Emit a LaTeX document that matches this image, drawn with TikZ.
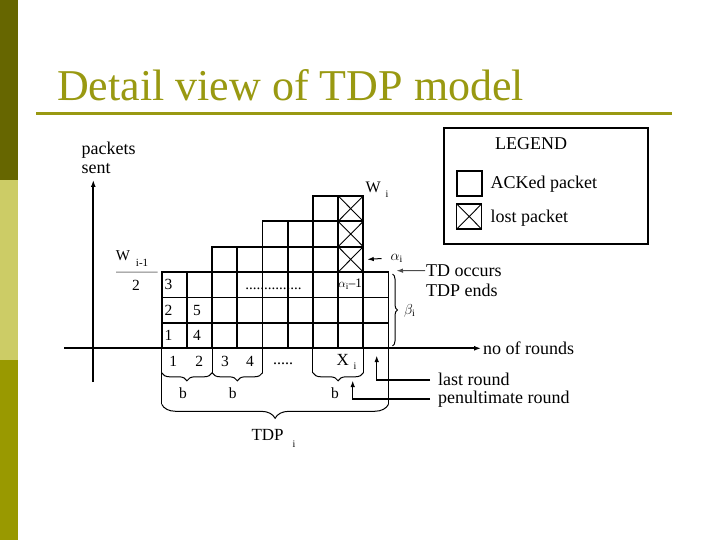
\documentclass[tikz,border=0pt]{standalone}
\usepackage{fontspec}
\setmainfont{Liberation Serif}
\usetikzlibrary{arrows.meta,decorations.pathreplacing}
\definecolor{barDark}{RGB}{102,102,0}
\definecolor{barLight}{RGB}{204,204,102}
\definecolor{barMid}{RGB}{153,153,0}
\definecolor{titleCol}{RGB}{153,153,17}
\newcommand\myfs[1]{\fontsize{#1}{#1}\selectfont}
\newcommand\mysub[3]{\hspace{#1}\raisebox{-#2}{\myfs{#3}i}}
\begin{document}
\begin{tikzpicture}[x=1pt,y=-1pt,
  cell/.style={draw, line width=1.8pt, minimum width=25.2pt, minimum height=25.4pt, inner sep=0pt, outer sep=0pt},
  lbl/.style={font=\myfs{18}, inner sep=0pt, anchor=west},
  dig/.style={font=\myfs{15.5}, inner sep=0pt},
  ax/.style={line width=1.8pt, -{Latex[length=7pt,width=5pt]}},
  pointer/.style={line width=1.3pt, -{Latex[length=6.5pt,width=4.5pt]}},
  tick/.style={line width=1pt},
  crossline/.style={line width=0.9pt},
  brc/.style={decorate, decoration={brace, amplitude=#1pt}, line width=1pt},
  brcm/.style={decorate, decoration={brace, mirror, amplitude=#1pt}, line width=1pt},
]
\useasboundingbox (0,0) rectangle (720,540);
\fill[white] (0,0) rectangle (720,540);
\fill[barDark] (0,0) rectangle (18,180);
\fill[barLight] (0,180) rectangle (18,360);
\fill[barMid] (0,360) rectangle (18,540);
\node[anchor=base west, inner sep=0pt, text=titleCol, font=\myfs{44}] (title) at (57,100.5) {Detail view of TDP model};
\draw[titleCol, line width=3pt] (36,114) -- (672,114);

% grid of packets
\foreach \c/\rmax in {0/2,1/2,2/3,3/3,4/4,5/4,6/5,7/5,8/2}{
  \foreach \r in {0,...,\rmax}{
    \node[cell] (c\c-\r) at ({161.7+25.2*(\c+0.5)},{348.3-25.4*(\r+0.5)}) {};
  }
}
\foreach \r in {3,4,5}{
  \draw[crossline] (c7-\r.north west) -- (c7-\r.south east)
                   (c7-\r.north east) -- (c7-\r.south west);
}
% cell texts
\node[dig] (n1) at ([xshift=-5.8pt]c0-0.center) {1};
\node[dig] (n2) at ([xshift=-5.8pt]c0-1.center) {2};
\node[dig] (n3) at ([xshift=-5.8pt]c0-2.center) {3};
\node[dig] (n4) at ([xshift=-2.5pt]c1-0.center) {4};
\node[dig] (n5) at ([xshift=-2.5pt]c1-1.center) {5};
\node[inner sep=0pt, font=\myfs{15}, anchor=base] (dots) at (273.5,289) {...............};
\node[inner sep=0pt, font=\myfs{13}] (am1) at ([xshift=-0.5pt,yshift=1pt]c7-2.center) {$\alpha_{\mathrm{i}}$--1};

% axes
\coordinate (xs) at (64,348.3);
\node[lbl] (rounds) at (483,348.3) {no of rounds};
\draw[ax] (xs) -- ([xshift=-2pt]rounds.west);
\coordinate (ybot) at (93.3,382);
\coordinate (ytop) at (93.3,180);
\draw[ax] (ybot) -- (ytop);
\node[lbl, align=left, font=\fontsize{18}{19}\selectfont] (ylab) at (81.5,157.5) {packets\\sent};

% W_{i-1}/2
\node[inner sep=0pt, font=\myfs{15}] (wim) at (132,259) {W\hspace{6pt}\raisebox{-6pt}{\myfs{11}i-1}};
\draw[gray, line width=1pt] (116,272.1) -- ([xshift=-4pt]c0-2.north west);
\node[dig] (two) at (136,285.7) {2};

% W_i
\node[inner sep=0pt, font=\myfs{16}] (wi) at (377,190) {W\mysub{5pt}{5pt}{10}};

% alpha_i
\node[inner sep=0pt, font=\myfs{14}, anchor=west] (ali) at (390.5,258.5) {$\alpha_{\mathrm{i}}$};
\draw[pointer, line width=1pt] ([xshift=-9pt]ali.west) -- ([xshift=4pt]c7-3.east);

% TD occurs
\node[lbl] (td) at (426,270.5) {TD occurs};
\node[lbl] (tde) at (426,290) {TDP ends};
\coordinate (tdtip) at (396.5,270.7);
\draw[pointer, gray!60!black, line width=1pt] ([xshift=-1pt]td.west) -- (tdtip);

% beta brace
\coordinate (bt) at (392.5,274);
\coordinate (bb) at (392.5,346);
\draw[brc=5] (bt) -- (bb);
\node[inner sep=0pt, font=\myfs{14}, anchor=west] (beta) at (404,311) {$\beta_{\mathrm{i}}$};

% ticks below axis
\draw[tick] (c0-0.south west) -- ++(0,56) coordinate (tdpL);
\draw[tick] (c2-0.south west) -- ++(0,24.5) coordinate (t2);
\draw[tick] (c4-0.south west) -- ++(0,24.5) coordinate (t4);
\draw[tick] (c6-0.south west) -- ++(0,24.5) coordinate (t6);
\draw[tick] (c8-0.south west) -- ++(0,24.5) coordinate (t8);
\draw[tick] (c8-0.south east) -- ++(0,56) coordinate (tdpR);
\coordinate (t0) at (161.7,372.8);

% round labels
\node[dig] (r1) at (173.3,361.5) {1};
\node[dig] (r2) at (199.3,361.5) {2};
\node[dig] (r3) at (225,361.5) {3};
\node[dig] (r4) at (250,361.5) {4};
\node[inner sep=0pt, font=\myfs{16}, anchor=base] (rdots) at (283,364) {.....};
\node[inner sep=0pt, font=\myfs{17}] (xi) at (346.5,362) {X\mysub{4.5pt}{4pt}{10}};

% b braces
\draw[brcm=8] (t0) -- (t2);
\draw[brcm=8] (t2) -- (t4);
\draw[brcm=8] (t6) -- (t8);
\node[dig] (b1) at (183,393) {b};
\node[dig] (b2) at (232.7,393) {b};
\node[dig] (b3) at (335,393) {b};

% TDP brace
\draw[brcm=14] (tdpL) -- (tdpR);
\node[inner sep=0pt, font=\myfs{17}] (tdp) at (273.5,438) {TDP\mysub{9pt}{7pt}{10}};

% last / penultimate round
\coordinate (lrtip) at (376.7,355.5);
\node[lbl] (lr) at (438,379) {last round};
\draw[pointer] ([xshift=-8pt,yshift=-1pt]lr.west) -| (lrtip);
\coordinate (prtip) at (352.7,380.5);
\node[lbl] (pr) at (438,399) {penultimate round};
\draw[pointer] ([xshift=-8pt,yshift=0pt]pr.west) -| (prtip);

% legend
\node[draw, line width=1.6pt, minimum width=204pt, minimum height=116pt, inner sep=0pt, outer sep=0pt] (legend) at (546,186) {};
\node[lbl, anchor=center] (legt) at (531,144) {LEGEND};
\node[cell, minimum width=25pt, minimum height=25.3pt] (lack) at (469.2,183.3) {};
\node[lbl] (lacktxt) at (490.5,184.5) {ACKed packet};
\node[cell, line width=1.4pt, minimum width=25pt, minimum height=25.3pt] (llost) at (469.2,216.5) {};
\draw[crossline] (llost.north west) -- (llost.south east) (llost.north east) -- (llost.south west);
\node[lbl] (llosttxt) at (490.5,218) {lost packet};
\end{tikzpicture}
\end{document}
